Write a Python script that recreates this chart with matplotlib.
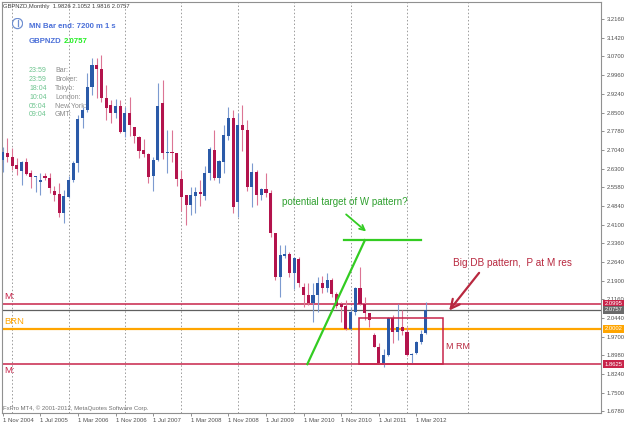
import matplotlib
matplotlib.use('Agg')
import matplotlib.pyplot as plt
from matplotlib.patches import Rectangle, Circle
import matplotlib.transforms as mtransforms

plt.rcParams['font.family'] = ['Liberation Sans', 'DejaVu Sans']

# monthly GBPNZD candles, Nov 2004 .. May 2012 (bar index 0..90)
opens = [
    2.664, 2.692, 2.677, 2.644, 2.622, 2.656, 2.614, 2.598, 2.576, 2.601,
    2.593, 2.543, 2.530, 2.457, 2.520, 2.585, 2.652, 2.827, 2.860, 2.951,
    3.037, 3.020, 2.906, 2.879, 2.849, 2.876, 2.775, 2.847, 2.792, 2.755,
    2.703, 2.687, 2.601, 2.664, 2.886, 2.690, 2.696, 2.692, 2.588, 2.525,
    2.487, 2.522, 2.539, 2.522, 2.611, 2.703, 2.592, 2.657, 2.758, 2.830,
    2.500, 2.800, 2.780, 2.559, 2.617, 2.526, 2.548, 2.535, 2.376, 2.205,
    2.287, 2.295, 2.221, 2.274, 2.166, 2.133, 2.101, 2.133, 2.180, 2.160,
    2.192, 2.137, 2.098, 2.090, 1.999, 2.068, 2.160, 2.098, 2.062, 1.976,
    1.930, 1.865, 1.898, 2.042, 1.990, 2.009, 1.990, 1.898, 1.904, 1.950,
    1.9826]
highs = [
    2.715, 2.750, 2.711, 2.671, 2.660, 2.671, 2.624, 2.600, 2.612, 2.614,
    2.614, 2.561, 2.573, 2.546, 2.601, 2.660, 2.840, 2.873, 3.005, 3.064,
    3.064, 3.076, 2.957, 2.899, 2.902, 2.899, 2.873, 2.910, 2.794, 2.758,
    2.745, 2.690, 2.677, 2.967, 2.978, 2.781, 2.781, 2.693, 2.624, 2.526,
    2.559, 2.559, 2.585, 2.640, 2.716, 2.781, 2.664, 2.800, 2.870, 2.860,
    2.850, 2.880, 2.820, 2.652, 2.624, 2.553, 2.612, 2.546, 2.378, 2.330,
    2.330, 2.304, 2.284, 2.284, 2.179, 2.179, 2.179, 2.205, 2.208, 2.221,
    2.200, 2.146, 2.107, 2.113, 2.085, 2.166, 2.245, 2.124, 2.064, 1.983,
    1.946, 1.922, 2.046, 2.055, 2.098, 2.074, 2.009, 1.907, 1.953, 1.996,
    2.1052]
lows = [
    2.616, 2.655, 2.624, 2.605, 2.565, 2.605, 2.553, 2.536, 2.526, 2.585,
    2.535, 2.504, 2.441, 2.416, 2.515, 2.577, 2.618, 2.788, 2.853, 2.919,
    2.907, 2.892, 2.821, 2.808, 2.827, 2.768, 2.755, 2.758, 2.729, 2.670,
    2.674, 2.574, 2.543, 2.660, 2.666, 2.611, 2.657, 2.562, 2.465, 2.408,
    2.448, 2.454, 2.483, 2.507, 2.585, 2.585, 2.572, 2.611, 2.742, 2.454,
    2.440, 2.700, 2.540, 2.480, 2.487, 2.507, 2.519, 2.362, 2.192, 2.127,
    2.279, 2.205, 2.156, 2.166, 2.088, 2.094, 2.029, 2.067, 2.141, 2.147,
    2.127, 2.081, 2.029, 1.996, 1.996, 2.055, 2.094, 2.035, 2.009, 1.928,
    1.863, 1.851, 1.894, 1.944, 1.956, 1.976, 1.894, 1.865, 1.900, 1.943,
    1.9816]
closes = [
    2.695, 2.674, 2.640, 2.627, 2.657, 2.609, 2.596, 2.600, 2.585, 2.593,
    2.553, 2.526, 2.457, 2.522, 2.585, 2.652, 2.824, 2.860, 2.951, 3.037,
    3.020, 2.906, 2.869, 2.847, 2.876, 2.775, 2.847, 2.801, 2.758, 2.700,
    2.686, 2.598, 2.664, 2.876, 2.692, 2.696, 2.690, 2.588, 2.520, 2.487,
    2.526, 2.539, 2.529, 2.614, 2.706, 2.592, 2.661, 2.762, 2.830, 2.480,
    2.800, 2.780, 2.559, 2.617, 2.526, 2.548, 2.533, 2.376, 2.205, 2.291,
    2.295, 2.221, 2.278, 2.180, 2.133, 2.101, 2.133, 2.180, 2.160, 2.192,
    2.137, 2.090, 2.088, 1.999, 2.068, 2.160, 2.098, 2.062, 2.035, 1.930,
    1.865, 1.898, 2.042, 1.990, 2.009, 1.993, 1.898, 1.902, 1.950, 1.980,
    2.0757]

date_labels = ['1 Nov 2004', '1 Jul 2005', '1 Mar 2006', '1 Nov 2006', '1 Jul 2007',
               '1 Mar 2008', '1 Nov 2008', '1 Jul 2009', '1 Mar 2010', '1 Nov 2010',
               '1 Jul 2011', '1 Mar 2012']
date_idx = [0, 8, 16, 24, 32, 40, 48, 56, 64, 72, 80, 88]
grid_idx = [2, 14, 26, 38, 50, 62, 74, 86, 98.9]
price_ticks = [3.2160, 3.1420, 3.0700, 2.9960, 2.9240, 2.8500, 2.7780, 2.7040, 2.6300,
               2.5580, 2.4840, 2.4100, 2.3360, 2.2640, 2.1900, 2.1160, 2.0440, 1.9700,
               1.8980, 1.8240, 1.7500, 1.6780]

# horizontal lines: (price, colour, width)
hlines = [(2.0995, '#c8244a', 1.1),
          (2.0757, '#606060', 0.9),
          (2.0002, '#ffa500', 1.6),
          (1.8625, '#c8244a', 1.1)]
box_x = (75.8, 93.6)
box_y = (1.8625, 2.0413)
target_x = (72.6, 88.9)
target_y = 2.349
w_leg_x = (64.8, 77.05)
w_leg_y = (1.862, 2.349)

BLUE, BLUE_W = '#2b5aa8', '#7d9bd0'
RED, RED_W = '#b3134c', '#dc7594'
GREEN = '#33cc22'
DRED = '#b8283f'

fig = plt.figure(figsize=(6.25, 4.26), dpi=100)
fig.patch.set_facecolor('white')
ax = fig.add_axes([2 / 625, 1 - 413 / 426, 598.7 / 625, 411.5 / 426])
ax.set_xlim(-0.15, 127.2)
ax.set_ylim(1.6702, 3.2859)

for s in ax.spines.values():
    s.set_color('#909090')
    s.set_linewidth(0.8)

for g in grid_idx:
    ax.axvline(g, color='#9a9a9a', lw=0.7, ls=(0, (1.5, 2.2)), zorder=1)

for price, col, lw in hlines:
    ax.axhline(price, color=col, lw=lw, zorder=2)

# candles
for i, (o, h, l, c) in enumerate(zip(opens, highs, lows, closes)):
    up = c >= o
    ax.vlines(i, l, h, color=BLUE_W if up else RED_W, lw=0.8, zorder=3)
    lo, hi = min(o, c), max(o, c)
    ax.add_patch(Rectangle((i - 0.33, lo), 0.66, max(hi - lo, 0.004),
                           facecolor=BLUE if up else RED, edgecolor='none', zorder=4))

# drawn objects
ax.add_patch(Rectangle((box_x[0], box_y[0]), box_x[1] - box_x[0], box_y[1] - box_y[0],
                       facecolor='none', edgecolor='#c8244a', lw=1.1, zorder=5))
ax.plot(target_x, [target_y, target_y], color=GREEN, lw=1.6, zorder=6)
ax.plot(w_leg_x, w_leg_y, color=GREEN, lw=1.6, zorder=6)
ax.annotate('', xy=(77.75, 2.376), xytext=(72.6, 2.457),
            arrowprops=dict(arrowstyle='->', color=GREEN, lw=1.3, mutation_scale=9), zorder=6)
ax.annotate('', xy=(94.6, 2.064), xytext=(101.7, 2.229),
            arrowprops=dict(arrowstyle='->', color=DRED, lw=1.6, mutation_scale=16), zorder=6)
ax.text(59.4, 2.497, 'potential target of W pattern?', color='#2fa02f', fontsize=7,
        va='center', ha='left', zorder=6)
ax.text(95.8, 2.258, 'Big DB pattern,  P at M res', color=DRED, fontsize=7.2,
        va='center', ha='left', zorder=6)
ax.text(94.2, 1.933, 'M RM', color=DRED, fontsize=6.5, va='center', ha='left', zorder=6)

# line descriptions at the left edge
trans = mtransforms.blended_transform_factory(ax.transAxes, ax.transData)
ax.text(0.003, 2.0995 + 0.012, 'M:', transform=trans, color='#c8244a', fontsize=6.8, va='bottom')
ax.text(0.003, 2.0002 + 0.012, 'BRN', transform=trans, color='#ffa500', fontsize=6.8, va='bottom')
ax.text(0.003, 1.8625 - 0.008, 'M:', transform=trans, color='#c8244a', fontsize=6.8, va='top')

# price boxes on the axis
for price, col, txt in [(2.0995, '#c8244a', '2.0995'), (2.0757, '#6a6a6a', '2.0757'),
                        (2.0002, '#ffa500', '2.0002'), (1.8625, '#c8244a', '1.8625')]:
    ax.text(1.006, price, txt, transform=trans, color='white', fontsize=4.2, va='center',
            ha='left', zorder=10, clip_on=False,
            bbox=dict(boxstyle='square,pad=0.25', facecolor=col, edgecolor='none'))

ax.yaxis.tick_right()
ax.set_yticks(price_ticks)
ax.set_yticklabels(['%.4f' % p for p in price_ticks])
ax.tick_params(axis='y', length=2.5, width=0.6, color='#808080', labelsize=4.2,
               labelcolor='#505050', pad=1.5)
ax.set_xticks(date_idx)
ax.set_xticklabels(date_labels, ha='left')
ax.tick_params(axis='x', length=2.5, width=0.6, color='#808080', labelsize=4.3,
               labelcolor='#505050', pad=0.8)

# header and info block
def fp(x, y):
    return x / 625, 1 - y / 426

fig.text(*fp(3, 6.5), 'GBPNZD,Monthly  1.9826 2.1052 1.9816 2.0757', fontsize=4.2,
         color='#404040', va='center')
ax_clock = fig.add_axes([11.5 / 625, 1 - 29.5 / 426, 12 / 625, 12 / 426])
ax_clock.set_xlim(-1, 1)
ax_clock.set_ylim(-1, 1)
ax_clock.axis('off')
ax_clock.add_patch(Circle((0, 0), 0.85, facecolor='none', edgecolor='#6f8fd0', lw=0.9))
ax_clock.plot([0, 0], [0, 0.6], color='#6f8fd0', lw=0.9)
ax_clock.plot([0, 0], [-0.3, -0.45], color='#6f8fd0', lw=0.9)

fig.text(*fp(29, 26), 'MN Bar end: 7200 m 1 s', fontsize=5.6, fontweight='bold',
         color='#4a6fd8', va='center')
fig.text(*fp(29, 41.5), 'GBPNZD', fontsize=5.6, fontweight='bold', color='#4a6fd8', va='center')
fig.text(*fp(64, 41.5), '2.0757', fontsize=5.6, fontweight='bold', color='#22ee22', va='center')

times = ['23:59', '23:59', '18:04', '10:04', '05:04', '09:04']
places = ['Bar:', 'Broker:', 'Tokyo:', 'London:', 'New York:', 'GMT:']
for k, (t, p) in enumerate(zip(times, places)):
    yy = 71 + 8.8 * k
    fig.text(*fp(29, yy), t, fontsize=5, color='#6cc48e', va='center')
    fig.text(*fp(55, yy), p, fontsize=5, color='#8a8a8a', va='center')

fig.text(*fp(3, 408.5), 'FxPro MT4, \u00a9 2001-2012, MetaQuotes Software Corp.', fontsize=4.3,
         color='#707070', va='center')

fig.savefig('out.png', dpi=100)
